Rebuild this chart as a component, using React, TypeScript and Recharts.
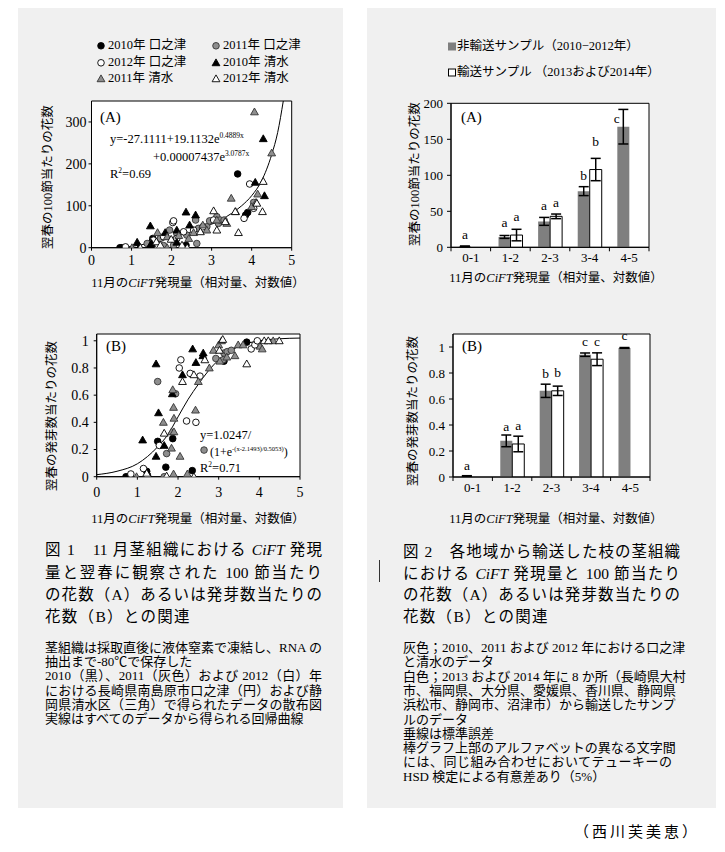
import React from 'react';
import {
  ComposedChart, Scatter, Line, XAxis, YAxis, CartesianGrid, ReferenceArea,
  Bar, ErrorBar, LabelList,
} from 'recharts';

const SERIF = '"Liberation Serif", "Times New Roman", serif';
const MIX = '"Liberation Serif", "Noto Sans CJK JP", serif';

// ---------- Figure 1 data (scatter) ----------
const seriesNames = ['2010年 口之津', '2011年 口之津', '2012年 口之津', '2010年 清水', '2011年 清水', '2012年 清水'];

const a2010Kuchi = [[0.71, 0], [0.76, 0], [1.47, 8], [1.51, 14], [1.53, 22], [2.36, 6], [3.65, 176], [3.85, 78], [3.9, 84]];
const a2011Kuchi = [[1.39, 10], [1.72, 22], [1.8, 5], [1.95, 42], [2.05, 6], [2.13, 34], [2.38, 30], [2.6, 66], [2.63, 10], [2.67, 46], [2.88, 50], [2.95, 64], [3.13, 74], [3.17, 58], [3.21, 66], [3.31, 66], [4.05, 108]];
const a2012Kuchi = [[0.85, 2], [1.55, 18], [1.63, 6], [1.8, 26], [2.03, 60], [2.05, 64], [2.13, 22], [2.3, 38], [2.55, 42], [2.78, 50], [3.05, 66], [3.81, 70], [3.95, 152], [4.05, 94]];
const a2010Shimizu = [[1.14, 13], [1.2, 2], [1.47, 52], [1.47, 6], [1.5, 10], [1.84, 36], [2.13, 42], [2.13, 13], [2.36, 85], [2.45, 54], [2.6, 78], [4.09, 156], [4.29, 260], [4.32, 124]];
const a2011Shimizu = [[1.01, 0], [1.65, 36], [1.89, 26], [1.89, 0], [2.18, 29], [2.28, 0], [2.43, 22], [2.55, 36], [2.78, 54], [2.88, 42], [3.13, 66], [3.38, 58], [3.49, 118], [3.6, 86], [4.0, 98], [4.07, 324], [4.11, 108], [4.15, 128], [4.5, 226]];
const a2012Shimizu = [[1.22, 0], [1.62, 14], [1.72, 6], [1.99, 20], [2.26, 6], [2.39, 0], [2.72, 38], [3.05, 88], [3.13, 42], [3.34, 62], [3.59, 86], [3.67, 36], [4.13, 106], [4.27, 86], [4.29, 158]];
// regression curve
const curveA = [[0.7, 0], [1.0, 3], [1.5, 12], [2.0, 24], [2.5, 38], [3.0, 56], [3.5, 82], [3.75, 100], [4.0, 124], [4.25, 160], [4.5, 222], [4.65, 275], [4.79, 350]];

const b2010Kuchi = [[0.72, 0], [0.8, 0], [1.23, 0.04], [1.25, 0.01], [1.5, 0.26], [1.7, 0.07], [1.87, 0.28], [2.35, 0.045], [3.13, 0.85], [3.69, 0.99]];
const b2011Kuchi = [[1.5, 0.7], [1.66, 0], [1.72, 0.17], [1.94, 0.61], [2.64, 0.196], [2.93, 0.87], [3.11, 0.86], [3.13, 0.91], [3.21, 0.92], [3.31, 0.93]];
const b2012Kuchi = [[0.84, 0.02], [1.15, 0.06], [1.25, 0], [1.54, 0.23], [2.03, 0.8], [2.07, 0.86], [2.21, 0.41], [2.3, 0.76], [2.44, 0.4], [2.54, 0.74], [3.8, 0.94], [3.89, 0.97], [3.95, 1.0]];
const b2010Shimizu = [[1.13, 0.27], [1.46, 0.83], [1.46, 0.15], [1.52, 0.47], [1.66, 0.23], [1.86, 0.61], [2.11, 0.75], [2.36, 0.94], [2.44, 0.84], [2.61, 0.89], [2.62, 0.91]];
const b2011Shimizu = [[0.98, 0], [1.64, 0.4], [1.84, 0.21], [1.84, 0.33], [1.87, 0.64], [1.89, 0.51], [1.89, 0.02], [1.9, 0.43], [1.9, 0.33], [2.05, 0.15], [2.23, 0.02], [2.43, 0.49], [2.5, 0.7], [2.77, 0.8], [2.87, 0.93], [3.0, 0.97], [3.03, 0.85], [3.07, 1.0], [3.2, 0.88], [3.4, 0.89], [3.48, 0.97], [3.6, 0.97], [4.02, 0.96], [4.07, 0.94], [4.34, 1.0]];
const b2012Shimizu = [[1.23, 0.025], [1.66, 0.32], [1.72, 0.005], [2.11, 0.7], [2.39, 0], [2.39, 0.75], [2.66, 0.86], [3.02, 0.93], [3.1, 1.01], [3.69, 0.83], [4.12, 1.0], [4.22, 1.0], [4.49, 1.0]];
const curveB = [[0, 0.015], [0.5, 0.04], [1.0, 0.095], [1.5, 0.22], [1.75, 0.31], [2.0, 0.44], [2.25, 0.57], [2.5, 0.68], [2.75, 0.78], [3.0, 0.86], [3.5, 0.96], [4.0, 1.0], [4.5, 1.015], [5.0, 1.02]];

const xTicksScatter = [0, 1, 2, 3, 4, 5];
const yTicksA = [0, 100, 200, 300];
const yTicksB = [0, 0.2, 0.4, 0.6, 0.8, 1];

// ---------- Figure 2 data (bars) ----------
const categories = ['0-1', '1-2', '2-3', '3-4', '4-5'];
const barLegend = ['非輸送サンプル（2010−2012年）', '輸送サンプル （2013および2014年）'];
const grayA = [1.4, 14.4, 36, 78, 167.5];
const grayAErr = [0.4, 2, 5.5, 6.2, 24];
const whiteA = [null, 17, 43, 108, null];
const whiteAErr = [null, 8, 3.2, 15.5, null];
const grayALetters = ['a', 'a', 'a', 'b', 'c'];
const whiteALetters = ['', 'a', 'a', 'b', ''];
const grayB = [0.008, 0.278, 0.663, 0.941, 0.993];
const grayBErr = [0.002, 0.045, 0.051, 0.013, 0.003];
const whiteB = [null, 0.254, 0.663, 0.906, null];
const whiteBErr = [null, 0.06, 0.036, 0.049, null];
const grayBLetters = ['a', 'a', 'b', 'c', 'c'];
const whiteBLetters = ['', 'a', 'b', 'c', ''];
const yTicksBarA = [0, 50, 100, 150, 200];
const yTicksBarB = [0, 0.2, 0.4, 0.6, 0.8, 1];

// ---------- styles ----------
const MARKS = [
  { kind: 'circle', fill: '#000', stroke: '#000' },
  { kind: 'circle', fill: '#8e8e8e', stroke: '#333' },
  { kind: 'circle', fill: '#fff', stroke: '#000' },
  { kind: 'triangle', fill: '#000', stroke: '#000' },
  { kind: 'triangle', fill: '#8e8e8e', stroke: '#333' },
  { kind: 'triangle', fill: '#fff', stroke: '#000' },
];
const GRAY_BAR = '#7f7f7f';

const toXY = (arr: number[][]) => arr.map(([x, y]) => ({ x, y }));
const seriesA = [a2010Kuchi, a2011Kuchi, a2012Kuchi, a2010Shimizu, a2011Shimizu, a2012Shimizu].map(toXY);
const seriesB = [b2010Kuchi, b2011Kuchi, b2012Kuchi, b2010Shimizu, b2011Shimizu, b2012Shimizu].map(toXY);

function Mark(p: any) {
  const { cx, cy, kind, fill, stroke } = p;
  if (cx == null || cy == null || isNaN(cx) || isNaN(cy)) return null;
  if (kind === 'circle') return <circle cx={cx} cy={cy} r={3.3} fill={fill} stroke={stroke} strokeWidth={0.9} />;
  const s = 3.9;
  return (
    <polygon
      points={`${cx},${cy - s} ${cx + s},${cy + s * 0.75} ${cx - s},${cy + s * 0.75}`}
      fill={fill} stroke={stroke} strokeWidth={0.9}
    />
  );
}

function marginFor(box: any, plot: any, yw: number, xh: number) {
  return {
    top: plot.t - box.t,
    left: plot.l - box.l - yw,
    right: box.l + box.w - plot.r,
    bottom: box.t + box.h - plot.b - xh,
  };
}

const tickStyle = (size: number) => ({ fontSize: size, fill: '#000', fontFamily: SERIF });

function ScatterPanel({ box, plot, series, curve, yDomain, yTicks, ytm, xtm }: any) {
  const yw = 60, xh = 30;
  return (
    <div style={{ position: 'absolute', left: box.l, top: box.t }}>
      <ComposedChart width={box.w} height={box.h} margin={marginFor(box, plot, yw, xh)}>
        <CartesianGrid horizontal={false} vertical={false} fill="#fff" />
        <XAxis type="number" dataKey="x" domain={[0, 5]} ticks={xTicksScatter} height={xh}
          tick={tickStyle(14)} tickSize={3} tickMargin={xtm} axisLine={{ stroke: '#000' }} tickLine={{ stroke: '#000' }} allowDataOverflow />
        <YAxis type="number" dataKey="y" domain={yDomain} ticks={yTicks} width={yw}
          tick={tickStyle(14)} tickSize={3} tickMargin={ytm} axisLine={{ stroke: '#000' }} tickLine={{ stroke: '#000' }} allowDataOverflow />
        <ReferenceArea x1={0} x2={5} y1={yDomain[0]} y2={yDomain[1]} fill="none" stroke="#000" strokeWidth={1} fillOpacity={0} />
        {series.map((d: any, i: number) => (
          <Scatter key={i} name={seriesNames[i]} data={d} isAnimationActive={false}
            shape={(p: any) => <Mark {...p} {...MARKS[i]} />} />
        ))}
        <Line data={toXY(curve)} dataKey="y" type="monotone" stroke="#000" strokeWidth={1}
          dot={false} activeDot={false} isAnimationActive={false} />
      </ComposedChart>
    </div>
  );
}

function CatTick(props: any) {
  const { x, y, payload, index, band } = props;
  const half = band / 2;
  return (
    <g>
      <line x1={x - half} x2={x - half} y1={y - 10} y2={y - 6} stroke="#000" />
      {index === categories.length - 1 && <line x1={x + half} x2={x + half} y1={y - 10} y2={y - 6} stroke="#000" />}
      <text x={x} y={y} dy="0.35em" textAnchor="middle" fontFamily={SERIF} fontSize={13} fill="#000">{payload.value}</text>
    </g>
  );
}

// label content: the LabelList value is the category index of the bar
function letterContent(letters: string[], vals: (number | null)[], errs: (number | null)[], nudges: number[][]) {
  return (props: any) => {
    const vb = props.viewBox || props;
    const { x, y, width, height } = vb;
    const ci = Number(props.value);
    const v = vals[ci];
    const L = letters[ci];
    if (!L || v == null || !v) return null;
    const ppu = height / v;
    const top = y - (errs[ci] || 0) * ppu;
    const n = nudges[ci] || [0, 0];
    return (
      <text x={x + width / 2 + n[0]} y={top - 7 + n[1]} textAnchor="middle" fontFamily={SERIF} fontSize={13.5} fill="#000">{L}</text>
    );
  };
}

function BarPanel({ box, plot, data, yDomain, yTicks, lettersG, lettersW, valsG, valsW, errG, errW, nudgeG, nudgeW }: any) {
  const yw = 60, xh = 30;
  const band = (plot.r - plot.l) / categories.length;
  return (
    <div style={{ position: 'absolute', left: box.l, top: box.t }}>
      <ComposedChart width={box.w} height={box.h} data={data} margin={marginFor(box, plot, yw, xh)}
        barCategoryGap="20%" barGap={0}>
        <CartesianGrid horizontal={false} vertical={false} fill="#fff" />
        <XAxis dataKey="cat" height={xh} tickLine={false} tickSize={0} tickMargin={10}
          axisLine={{ stroke: '#000' }} tick={(p: any) => <CatTick {...p} band={band} />} interval={0} />
        <YAxis domain={yDomain} ticks={yTicks} width={yw} tick={tickStyle(13)} tickSize={4} tickMargin={4}
          axisLine={{ stroke: '#000' }} tickLine={{ stroke: '#000' }} allowDataOverflow />
        <ReferenceArea x1={categories[0]} x2={categories[categories.length - 1]} y1={yDomain[0]} y2={yDomain[1]}
          fill="none" fillOpacity={0} stroke="#000" strokeWidth={1} />
        <Bar dataKey="g" fill={GRAY_BAR} isAnimationActive={false}>
          <ErrorBar dataKey="ge" width={5} stroke="#000" strokeWidth={1.5} />
          <LabelList dataKey="i" content={letterContent(lettersG, valsG, errG, nudgeG)} />
        </Bar>
        <Bar dataKey="w" fill="#fff" stroke="#000" strokeWidth={1} isAnimationActive={false}>
          <ErrorBar dataKey="we" width={5} stroke="#000" strokeWidth={1.5} />
          <LabelList dataKey="i" content={letterContent(lettersW, valsW, errW, nudgeW)} />
        </Bar>
      </ComposedChart>
    </div>
  );
}

const barDataA = categories.map((c, i) => ({ cat: c, i, g: grayA[i], ge: grayAErr[i], w: whiteA[i], we: whiteAErr[i] }));
const barDataB = categories.map((c, i) => ({ cat: c, i, g: grayB[i], ge: grayBErr[i], w: whiteB[i], we: whiteBErr[i] }));

function Txt({ x, y, size = 13, anchor = 'start', family = MIX, style = {}, children }: any) {
  const tx = anchor === 'middle' ? '-50%' : anchor === 'end' ? '-100%' : '0';
  return (
    <div style={{
      position: 'absolute', left: x, top: y, transform: `translate(${tx}, -50%)`, whiteSpace: 'nowrap',
      fontSize: size, fontFamily: family, lineHeight: 1.2, color: '#000', ...style,
    }}>{children}</div>
  );
}

function VTxt({ x, y, size = 12.5, children }: any) {
  return (
    <div style={{
      position: 'absolute', left: x, top: y, transform: 'translate(-50%, -50%) rotate(-90deg)', whiteSpace: 'nowrap',
      fontSize: size, fontFamily: MIX, lineHeight: 1.2, color: '#000',
    }}>{children}</div>
  );
}

function JLine({ x, y, w, size, justify = true, spacing = 0, children }: any) {
  return (
    <div style={{
      position: 'absolute', left: x, top: y, width: w, transform: 'translateY(-50%)', whiteSpace: 'nowrap',
      fontSize: size, fontFamily: MIX, lineHeight: 1.2, color: '#000',
      textAlign: justify ? 'justify' : 'left', textAlignLast: justify ? 'justify' : 'auto', letterSpacing: spacing,
    }}>{children}</div>
  );
}

const XTitle = () => <>11月の<i style={{ fontFamily: SERIF }}>CiFT</i>発現量（相対量、対数値）</>;
const CIFT = <i style={{ fontFamily: SERIF }}>CiFT</i>;

function LegendMark({ i }: any) {
  return (
    <svg width={10} height={10} style={{ display: 'inline-block', verticalAlign: 'middle', marginRight: 2 }}>
      <Mark cx={5} cy={5.3} {...MARKS[i]} />
    </svg>
  );
}

export default function App() {
  const capSmallL = [
    { t: <>茎組織は採取直後に液体窒素で凍結し、RNA の</>, j: true },
    { t: <>抽出まで-80℃で保存した</>, j: false },
    { t: <>2010（黒）、2011（灰色）および 2012（白）年</>, j: true },
    { t: <>における長崎県南島原市口之津（円）および静</>, j: true },
    { t: <>岡県清水区（三角）で得られたデータの散布図</>, j: true },
    { t: <>実線はすべてのデータから得られる回帰曲線</>, j: false },
  ];
  const capSmallR = [
    { t: <>灰色；2010、2011 および 2012 年における口之津</>, j: true },
    { t: <>と清水のデータ</>, j: false },
    { t: <>白色；2013 および 2014 年に 8 か所（長崎県大村</>, j: true },
    { t: <>市、福岡県、大分県、愛媛県、香川県、静岡県</>, j: true },
    { t: <>浜松市、静岡市、沼津市）から輸送したサンプ</>, j: true },
    { t: <>ルのデータ</>, j: false },
    { t: <>垂線は標準誤差</>, j: false },
    { t: <>棒グラフ上部のアルファベットの異なる文字間</>, j: true },
    { t: <>には、同じ組み合わせにおいてテューキーの</>, j: true },
    { t: <>HSD 検定による有意差あり（5%）</>, j: false },
  ];
  return (
    <div style={{ position: 'absolute', left: 0, top: 0, width: 725, height: 852, background: '#fff', overflow: 'hidden' }}>
      {/* panels */}
      <div style={{ position: 'absolute', left: 18, top: 8, width: 325, height: 800, background: '#f0f0f0' }} />
      <div style={{ position: 'absolute', left: 367, top: 8, width: 349, height: 800, background: '#f0f0f0' }} />

      {/* Figure 1 charts */}
      <ScatterPanel box={{ l: 18, t: 95, w: 310, h: 190 }} plot={{ l: 91.5, t: 101, r: 291.7, b: 247.7 }}
        series={seriesA} curve={curveA} yDomain={[0, 350]} yTicks={yTicksA} ytm={2} xtm={4} />
      <ScatterPanel box={{ l: 18, t: 325, w: 310, h: 190 }} plot={{ l: 96.7, t: 334, r: 300, b: 476.7 }}
        series={seriesB} curve={curveB} yDomain={[0, 1.05]} yTicks={yTicksB} ytm={5} xtm={7} />

      {/* Figure 2 charts */}
      <BarPanel box={{ l: 368, t: 95, w: 340, h: 190 }} plot={{ l: 451, t: 103.3, r: 649, b: 247.3 }}
        data={barDataA} yDomain={[0, 200]} yTicks={yTicksBarA}
        lettersG={grayALetters} lettersW={whiteALetters} valsG={grayA} valsW={whiteA} errG={grayAErr} errW={whiteAErr}
        nudgeG={[[0, 0], [0, -1], [0, 0], [0, 0], [-6.5, 20.5]]} nudgeW={[[0, 0], [0, -1], [0, 0], [0, -5.5], [0, 0]]} />
      <BarPanel box={{ l: 368, t: 325, w: 340, h: 190 }} plot={{ l: 453, t: 334, r: 650, b: 477 }}
        data={barDataB} yDomain={[0, 1.1]} yTicks={yTicksBarB}
        lettersG={grayBLetters} lettersW={whiteBLetters} valsG={grayB} valsW={whiteB} errG={grayBErr} errW={whiteBErr}
        nudgeG={[[0, 1], [0, 2.5], [0, 1], [0, 0], [0, -1]]} nudgeW={[[0, 0], [0, 1], [0, -2], [0, 0], [0, 0]]} />

      {/* scatter legend */}
      {[0, 1, 2, 3, 4, 5].map((i) => (
        <Txt key={i} x={i % 2 === 0 ? 96 : 211} y={45 + Math.floor(i / 2) * 16.5} size={12.5}>
          <LegendMark i={i} />{seriesNames[i]}
        </Txt>
      ))}

      {/* bar legend */}
      <Txt x={448} y={46} size={12.5}>
        <span style={{ display: 'inline-block', width: 8, height: 8, background: GRAY_BAR, marginRight: 1, verticalAlign: 'middle' }} />{barLegend[0]}
      </Txt>
      <Txt x={448} y={72} size={12.5}>
        <span style={{ display: 'inline-block', width: 6, height: 6, background: '#fff', border: '1px solid #000', marginRight: 1, verticalAlign: 'middle' }} />{barLegend[1]}
      </Txt>

      {/* axis titles */}
      <VTxt x={48} y={177}>翌春の100節当たりの花数</VTxt>
      <VTxt x={52} y={416}>翌春の発芽数当たりの花数</VTxt>
      <VTxt x={415} y={174}>翌春の100節当たりの花数</VTxt>
      <VTxt x={413} y={411}>翌春の発芽数当たりの花数</VTxt>
      <Txt x={198} y={283} size={12.5} anchor="middle"><XTitle /></Txt>
      <Txt x={198} y={519} size={12.5} anchor="middle"><XTitle /></Txt>
      <Txt x={556} y={278} size={12.5} anchor="middle"><XTitle /></Txt>
      <Txt x={556} y={519} size={12.5} anchor="middle"><XTitle /></Txt>

      {/* panel tags */}
      <Txt x={100} y={117} size={15} family={SERIF}>(A)</Txt>
      <Txt x={106} y={346} size={15} family={SERIF}>(B)</Txt>
      <Txt x={461} y={117} size={15} family={SERIF}>(A)</Txt>
      <Txt x={462} y={346} size={15} family={SERIF}>(B)</Txt>

      {/* equations */}
      <Txt x={110} y={139} size={12.5} family={SERIF}>y=-27.1111+19.1132e<sup style={{ fontSize: 7.5 }}>0.4889x</sup></Txt>
      <Txt x={153} y={157} size={12.5} family={SERIF}>+0.00007437e<sup style={{ fontSize: 7.5 }}>3.0787x</sup></Txt>
      <Txt x={110} y={174} size={12.5} family={SERIF}>R<sup style={{ fontSize: 7.5 }}>2</sup>=0.69</Txt>
      <Txt x={200} y={435} size={12.5} family={SERIF}>y=1.0247/</Txt>
      <Txt x={210} y={452} size={12} family={SERIF}>(1+e<sup style={{ fontSize: 6.5 }}>-(x-2.1493)/0.5053)</sup>)</Txt>
      <Txt x={200} y={468} size={12.5} family={SERIF}>R<sup style={{ fontSize: 7.5 }}>2</sup>=0.71</Txt>

      {/* captions fig 1 */}
      <JLine x={45} y={550} w={277} size={15.5}>図 1　11 月茎組織における {CIFT} 発現</JLine>
      <JLine x={45} y={573} w={277} size={15.5}>量と翌春に観察された 100 節当たり</JLine>
      <JLine x={45} y={595} w={277} size={15.5}>の花数（A）あるいは発芽数当たりの</JLine>
      <JLine x={45} y={617} w={277} size={15.5} justify={false} spacing={1.3}>花数（B）との関連</JLine>
      {capSmallL.map((l, k) => (
        <JLine key={k} x={45} y={648 + k * 14.2} w={277} size={13} justify={l.j}>{l.t}</JLine>
      ))}

      {/* captions fig 2 */}
      <div style={{ position: 'absolute', left: 379, top: 560, width: 1.3, height: 22, background: '#333' }} />
      <JLine x={403} y={552} w={277} size={15.5}>図 2　各地域から輸送した枝の茎組織</JLine>
      <JLine x={403} y={573.5} w={277} size={15.5}>における {CIFT} 発現量と 100 節当たり</JLine>
      <JLine x={403} y={595} w={277} size={15.5}>の花数（A）あるいは発芽数当たりの</JLine>
      <JLine x={403} y={616.5} w={277} size={15.5} justify={false} spacing={1.3}>花数（B）との関連</JLine>
      {capSmallR.map((l, k) => (
        <JLine key={k} x={403} y={648 + k * 14.3} w={269} size={13} justify={l.j}>{l.t}</JLine>
      ))}

      <Txt x={574} y={832} size={15} style={{ letterSpacing: 3 }}>（西川芙美恵）</Txt>
    </div>
  );
}
